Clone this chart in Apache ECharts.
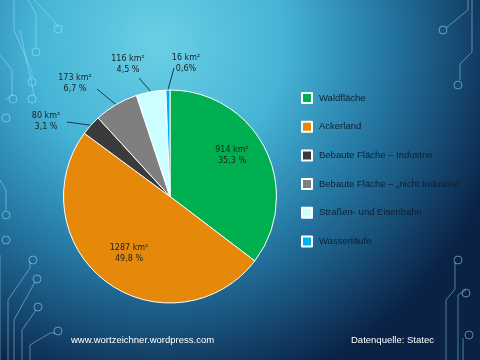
<!DOCTYPE html>
<html><head><meta charset="utf-8">
<script src="https://cdn.jsdelivr.net/npm/echarts@6/dist/echarts.min.js"></script>
<style>html,body{margin:0;padding:0;}#c{width:480px;height:360px;}</style>
</head><body><div id="c"></div>
<script>
const categories = ['Waldfläche','Ackerland','Bebaute Fläche – Industrie','Bebaute Fläche – „nicht Industrie“','Straßen- und Eisenbahn','Wasserläufe'];
const areas = [914, 1287, 80, 173, 116, 16];
const percents = ['35,3 %','49,8 %','3,1 %','6,7 %','4,5 %','0,6%'];
const colors = ['#00b050','#e6890a','#3b3b3b','#7f7f7f','#ccffff','#00b0f0'];

// label layout (text centres and leader-line ends), not data
const labelCenters = [[232,155],[129,253],[46,121],[75,83],[128,64],[186,63]];
const leaderEnds = [null,null,[67,122],[97,89],[139,78],[174,68]];

const chart = echarts.init(document.getElementById('c'), null, {renderer:'canvas'});
const data = categories.map((n,i)=>({
  name:n, value:areas[i],
  itemStyle:{color:colors[i]},
  label: {position: leaderEnds[i] ? 'outside' : 'inside'},
  labelLine: {show: !!leaderEnds[i]}
}));
function poly(pts){return {type:'polyline', shape:{points:pts}, style:{stroke:'rgba(170,235,255,0.45)', fill:null, lineWidth:1}, silent:true};}
function ring(x,y){return {type:'circle', shape:{cx:x,cy:y,r:4}, style:{stroke:'rgba(170,235,255,0.5)', fill:null, lineWidth:1}, silent:true};}
chart.setOption({
  backgroundColor:{type:'radial', x:0.33, y:0.12, r:1.0, colorStops:[
    {offset:0, color:'#6ad0e4'},{offset:0.35, color:'#45b4d6'},{offset:0.65, color:'#23739f'},{offset:1, color:'#0a2246'}]},
  graphic:[
    poly([[28,0],[36,14],[36,48]]), ring(36,52), poly([[34,0],[55,22],[58,28]]), ring(58,29),
    poly([[14,0],[14,30],[32,72],[32,78]]), ring(32,82), poly([[20,30],[34,95]]), ring(32,99),
    poly([[0,55],[12,70],[12,96]]), poly([[6,100],[13,94]]), ring(13,99), ring(6,118),
    poly([[0,180],[6,190],[6,210]]), ring(6,215), ring(6,240),
    poly([[0,255],[0,360]]), poly([[8,360],[8,300],[30,268],[30,262]]), ring(33,260),
    poly([[14,360],[14,320],[35,282]]), ring(37,279), poly([[22,360],[22,330],[36,310]]), ring(38,307),
    poly([[30,360],[30,345],[50,333],[55,333]]), ring(58,331),
    poly([[472,0],[472,52],[460,64],[460,80]]), ring(458,85), poly([[468,0],[468,10],[446,28]]), ring(443,30),
    poly([[458,360],[458,295],[466,290]]), ring(466,293), poly([[446,360],[446,300],[455,289],[455,262]]), ring(458,260),
    poly([[463,360],[463,338]]), ring(469,335)
  ],
  legend:{
    orient:'vertical', left:301, top:92, padding:0, itemWidth:10, itemHeight:10, itemGap:16.7, icon:'rect',
    textStyle:{fontFamily:'Liberation Sans', fontSize:9.5, color:'#0d1f33', padding:[0,0,0,2]},
    data:categories
  },
  series:[{
    type:'pie', center:[170,196.5], radius:106.5, startAngle:90, clockwise:true,
    itemStyle:{borderColor:'#ffffff', borderWidth:1},
    label:{
      formatter:p=>p.value+' km²\n'+percents[p.dataIndex],
      fontFamily:'DejaVu Sans', fontSize:8, color:'#1e1e1e', lineHeight:11, align:'center'
    },
    labelLine:{length:14, length2:0, smooth:false, lineStyle:{color:'#1a3550', width:1}},
    labelLayout:function(p){
      const c = labelCenters[p.dataIndex];
      const out = {x:c[0], y:c[1], align:'center', verticalAlign:'middle', moveOverlap:null, hideOverlap:false};
      const e = leaderEnds[p.dataIndex];
      if (e && p.labelLinePoints) out.labelLinePoints = [p.labelLinePoints[0], e];
      return out;
    },
    emphasis:{disabled:true},
    animation:false,
    data:data
  }]
});
</script>
<div style="position:absolute;left:71px;top:334px;font:9.5px 'Liberation Sans';color:#fff;">www.wortzeichner.wordpress.com</div>
<div style="position:absolute;left:351px;top:334px;font:9.5px 'Liberation Sans';color:#fff;">Datenquelle: Statec</div>
</body></html>
